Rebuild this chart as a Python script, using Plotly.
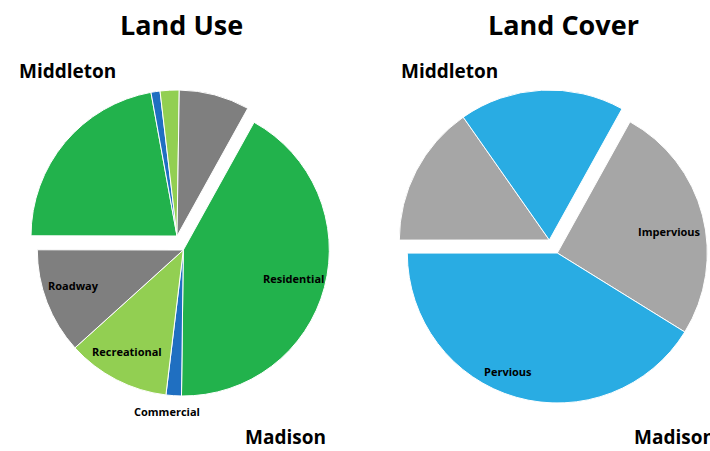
import plotly.graph_objects as go

W, H = 710, 451

# Land use shares (% of combined area), Madison then Middleton
use_categories = ["Residential", "Commercial", "Recreational", "Roadway"]
use_madison = [42.1, 1.7, 11.4, 11.7]
use_middleton = [22.1, 1.0, 2.1, 7.8]
use_colors = ["#22B24C", "#1F6FC1", "#92CF52", "#7F7F7F"]

# Land cover shares (% of combined area)
cover_categories = ["Impervious", "Pervious"]
cover_madison = [25.8, 41.2]
cover_middleton = [15.3, 17.8]
cover_colors = ["#A6A6A6", "#29ACE3"]

FONT = "Open Sans"
CLEAR = "rgba(0,0,0,0)"


def px_domain(cx, cy, r):
    """Pie domain (paper coords) for a pie centred at pixel (cx, cy) with radius r."""
    return dict(x=[(cx - r) / W, (cx + r) / W],
                y=[1 - (cy + r) / H, 1 - (cy - r) / H])


def group_trace(cats, mad, mid, colors, show, cx, cy, r):
    """One pie trace holding both towns; the town not shown is drawn transparent,
    so each town's wedge group can sit at its own offset."""
    labels = [f"Madison {c}" for c in cats] + [f"Middleton {c}" for c in cats]
    values = list(mad) + list(mid)
    if show == "Madison":
        fill = list(colors) + [CLEAR] * len(cats)
        line = ["white"] * len(cats) + [CLEAR] * len(cats)
    else:
        fill = [CLEAR] * len(cats) + list(colors)
        line = [CLEAR] * len(cats) + ["white"] * len(cats)
    return go.Pie(
        labels=labels, values=values, sort=False, direction="clockwise",
        rotation=29, textinfo="none", hoverinfo="label+value",
        marker=dict(colors=fill, line=dict(color=line, width=1)),
        domain=px_domain(cx, cy, r), showlegend=False,
    )


fig = go.Figure()
# Land Use: Madison group, Middleton group pulled out up-left
fig.add_trace(group_trace(use_categories, use_madison, use_middleton, use_colors,
                          "Madison", 183.3, 250, 146))
fig.add_trace(group_trace(use_categories, use_madison, use_middleton, use_colors,
                          "Middleton", 177, 236, 146))
# Land Cover
fig.add_trace(group_trace(cover_categories, cover_madison, cover_middleton, cover_colors,
                          "Madison", 557.3, 253, 150))
fig.add_trace(group_trace(cover_categories, cover_madison, cover_middleton, cover_colors,
                          "Middleton", 549.3, 240, 150))


def label(text, x, y, size, xanchor="center"):
    return dict(text=f"<b>{text}</b>", x=x / W, y=1 - y / H, xref="paper", yref="paper",
                xanchor=xanchor, yanchor="middle", showarrow=False,
                font=dict(family=FONT, size=size, color="black"))


annotations = [
    label("Land Use", 181, 24, 27),
    label("Land Cover", 563, 24, 27),
    label("Middleton", 17, 71, 19, "left"),
    label("Middleton", 399, 71, 19, "left"),
    label("Madison", 243, 437, 19, "left"),
    label("Madison", 631.5, 437, 19, "left"),
    label(use_categories[0], 293, 278, 11),
    label(use_categories[1], 167, 411, 11),
    label(use_categories[2], 127, 351, 11),
    label(use_categories[3], 73, 285, 11),
    label(cover_categories[0], 669, 231, 11),
    label(cover_categories[1], 507.5, 371, 11),
]

fig.update_layout(
    width=W, height=H, margin=dict(l=0, r=0, t=0, b=0),
    paper_bgcolor="white", plot_bgcolor="white",
    annotations=annotations,
)

fig.write_html("out.html")
